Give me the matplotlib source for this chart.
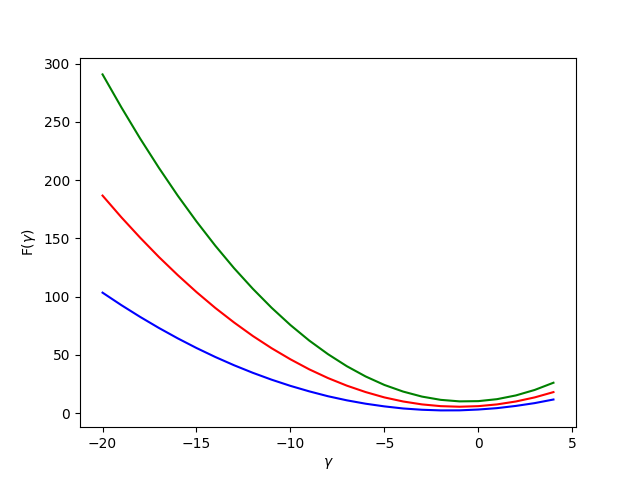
import matplotlib
matplotlib.use("Agg")
import matplotlib.pyplot as plt

gamma = list(range(-20, 5))
blue_vals = [103.4, 92.7, 82.6, 73.1, 64.2, 55.9, 48.2, 41.1, 34.6, 28.7, 23.4,
             18.7, 14.5, 11.0, 8.1, 5.8, 4.0, 2.9, 2.35, 2.4, 3.1, 4.3, 6.2, 8.6, 11.7]
red_vals = [186.7, 168.1, 150.6, 134.0, 118.5, 103.9, 90.3, 77.8, 66.2, 55.7, 46.2,
            37.6, 30.1, 23.6, 18.1, 13.5, 10.0, 7.5, 6.0, 5.5, 6.0, 7.5, 10.0, 13.5, 18.05]
green_vals = [290.7, 262.5, 235.7, 210.5, 186.7, 164.5, 143.7, 124.4, 106.7, 90.4, 75.6,
              62.3, 50.6, 40.3, 31.5, 24.2, 18.5, 14.2, 11.4, 10.1, 10.3, 12.0, 15.2, 19.9, 26.1]

fig, ax = plt.subplots(figsize=(6.4, 4.8), dpi=100)
ax.plot(gamma, blue_vals, color="blue")
ax.plot(gamma, red_vals, color="red")
ax.plot(gamma, green_vals, color="green")
ax.set_xlabel(r"$\gamma$")
ax.set_ylabel(r"F($\gamma$)")
fig.savefig("out.png")
